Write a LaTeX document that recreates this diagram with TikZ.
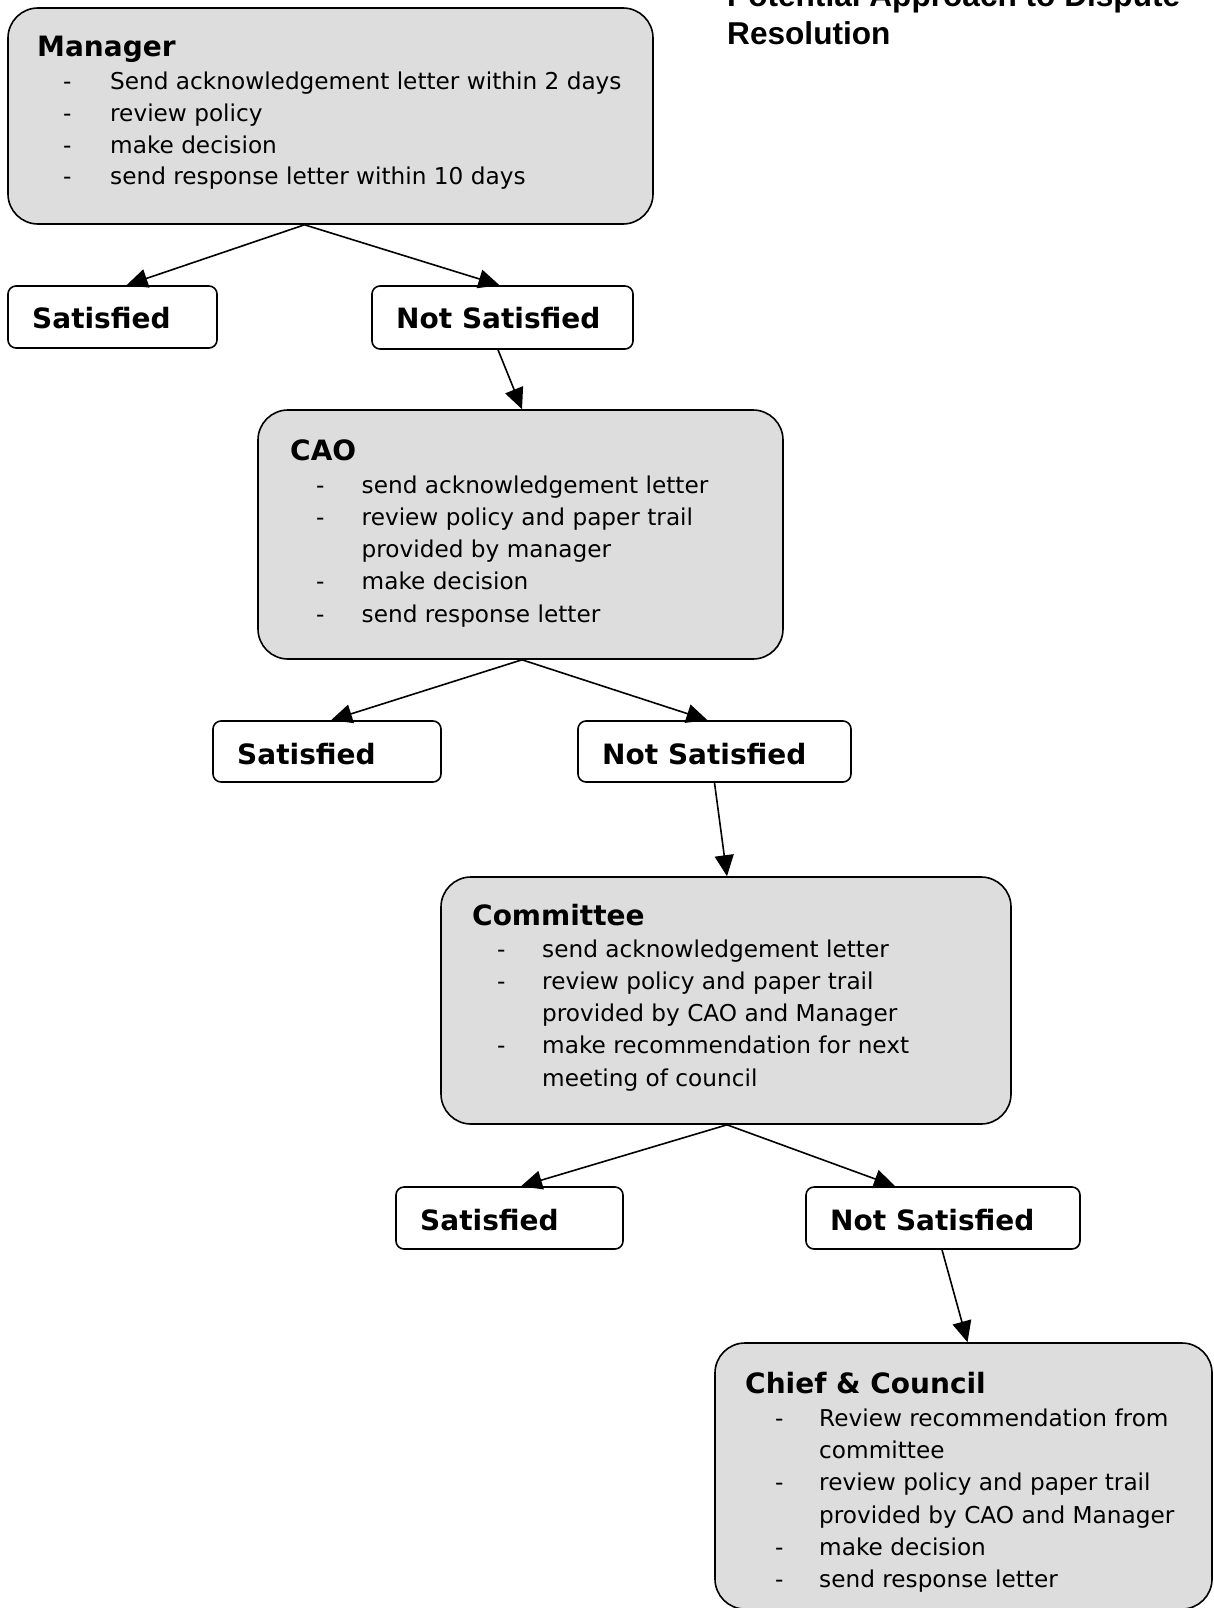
\documentclass[tikz,border=0pt]{standalone}
\usepackage{fontspec}
\setmainfont{DejaVu Sans}
\newfontfamily\headfont{Liberation Sans}
\usetikzlibrary{arrows.meta,calc}
\definecolor{panel}{RGB}{221,221,221}

% a box given by its corners: name, style, x1, y1, x2, y2
\newcommand\cornerbox[6]{%
  \node[#2, minimum width={(#5-#3)*1pt}, minimum height={(#6-#4)*1pt}]
    (#1) at ({(#3+#5)/2},{(#4+#6)/2}) {};}

% dashed list lines: prefix, dash x, text x, first baseline, step, entries
\newcommand\itemlines[6]{%
  \foreach \hasdash/\words [count=\k] in {#6} {
    \pgfmathsetmacro\yy{#4+#5*(\k-1)}
    \ifnum\hasdash=1 \node[item] (#1d\k) at (#2,\yy) {-};\fi
    \node[item] (#1t\k) at (#3,\yy) {\words};
  }}

\begin{document}
\begin{tikzpicture}[x=1pt,y=-1pt,
  stage/.style={draw=black,line width=1.6pt,fill=panel,rounded corners=30pt,inner sep=0pt},
  outcome/.style={draw=black,line width=1.6pt,fill=white,rounded corners=8pt,inner sep=0pt},
  heading/.style={anchor=base west,inner sep=0pt,font=\fontsize{28}{32}\selectfont\bfseries},
  item/.style={anchor=base west,inner sep=0pt,font=\fontsize{23.2}{28}\selectfont},
  title/.style={anchor=base west,inner sep=0pt,font=\headfont\fontsize{31.6}{36}\selectfont\bfseries},
  flow/.style={line width=1.6pt,-{Triangle[length=21pt,width=19pt]}},
  ]
\useasboundingbox (0,0) rectangle (1214,1608);
\clip (0,0) rectangle (1214,1608);

% title
\node[title] (title1) at (727,7) {Potential Approach to Dispute};
\node[title] (title2) at (727,45) {Resolution};

% stage boxes
\cornerbox{mgr}{stage}{8}{8}{653}{224}
\cornerbox{cao}{stage}{258}{410}{783}{659}
\cornerbox{com}{stage}{441}{877}{1011}{1124}
\cornerbox{chief}{stage}{715}{1343}{1212}{1609}

% outcome boxes
\cornerbox{sat1}{outcome}{8}{286}{217}{348}
\cornerbox{ns1}{outcome}{372}{286}{633}{349}
\cornerbox{sat2}{outcome}{213}{721}{441}{782}
\cornerbox{ns2}{outcome}{578}{721}{851}{782}
\cornerbox{sat3}{outcome}{396}{1187}{623}{1249}
\cornerbox{ns3}{outcome}{806}{1187}{1080}{1249}

% stage headings and duties
\node[heading] (mgrH) at (37,57) {Manager};
\itemlines{mgr}{63}{110}{89.5}{31.8}{1/Send acknowledgement letter within 2 days,
  1/review policy, 1/make decision, 1/send response letter within 10 days}

\node[heading] (caoH) at (290,460) {CAO};
\itemlines{cao}{316}{361.5}{493}{32.3}{1/send acknowledgement letter,
  1/review policy and paper trail, 0/provided by manager, 1/make decision,
  1/send response letter}

\node[heading] (comH) at (472,925) {Committee};
\itemlines{com}{497}{542}{957}{32.3}{1/send acknowledgement letter,
  1/review policy and paper trail, 0/provided by CAO and Manager,
  1/make recommendation for next, 0/meeting of council}

\node[heading] (chiefH) at (745,1393) {Chief \& Council};
\itemlines{chief}{775}{819}{1426.5}{32.2}{1/Review recommendation from,
  0/committee, 1/review policy and paper trail, 0/provided by CAO and Manager,
  1/make decision, 1/send response letter}

% outcome labels
\node[heading] (sat1T) at (32,328.5) {Satisfied};
\node[heading] (ns1T) at (396,328.5) {Not Satisfied};
\node[heading] (sat2T) at (237,764) {Satisfied};
\node[heading] (ns2T) at (602,764) {Not Satisfied};
\node[heading] (sat3T) at (420,1230) {Satisfied};
\node[heading] (ns3T) at (830,1230) {Not Satisfied};

% connectors
\draw[flow] ([xshift=-26pt]mgr.south) -- ([xshift=14pt]sat1.north);
\draw[flow] ([xshift=-26pt]mgr.south) -- ([xshift=-3pt]ns1.north);
\draw[flow] ([xshift=-4.5pt]ns1.south) -- ([xshift=1.5pt]cao.north);
\draw[flow] ([xshift=1.5pt]cao.south) -- ([xshift=4pt]sat2.north);
\draw[flow] ([xshift=1.5pt]cao.south) -- ([xshift=-7pt]ns2.north);
\draw[flow] (ns2.south) -- ([xshift=1pt]com.north);
\draw[flow] ([xshift=1pt]com.south) -- ([xshift=11.5pt]sat3.north);
\draw[flow] ([xshift=1pt]com.south) -- ([xshift=-48pt]ns3.north);
\draw[flow] ([xshift=-1pt]ns3.south) -- ([xshift=4pt]chief.north);
\end{tikzpicture}
\end{document}
